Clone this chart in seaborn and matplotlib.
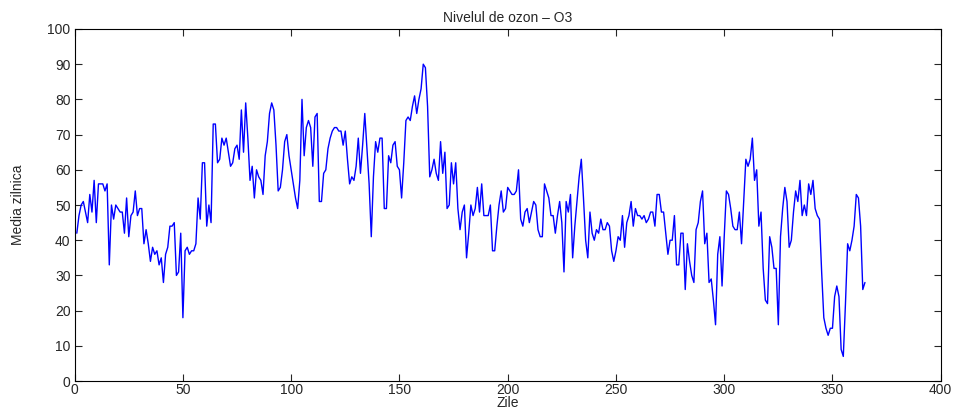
import numpy as np
import pandas as pd
import matplotlib
matplotlib.use("Agg")
import matplotlib.pyplot as plt
import seaborn as sns

# daily ozone means (days 1..365)
ozone = [
    42, 47, 50, 51, 48, 45, 53, 48, 57, 45, 56, 56, 56, 54, 56, 33, 50, 46, 50, 49,
    48, 48, 42, 52, 41, 47, 48, 54, 47, 49, 49, 39, 43, 39, 34, 38, 36, 37, 33, 35,
    28, 36, 38, 44, 44, 45, 30, 31, 42, 18, 37, 38, 36, 37, 37, 39, 52, 46, 62, 62,
    44, 50, 45, 73, 73, 62, 63, 69, 67, 69, 65, 61, 62, 66, 67, 63, 77, 65, 79, 69,
    57, 61, 52, 60, 58, 57, 53, 64, 68, 76, 79, 77, 67, 54, 55, 60, 68, 70, 64, 60,
    56, 52, 49, 57, 80, 64, 72, 74, 72, 61, 75, 76, 51, 51, 59, 60, 66, 69, 71, 72,
    72, 71, 71, 67, 71, 63, 56, 58, 57, 61, 69, 59, 67, 76, 66, 56, 41, 58, 68, 65,
    69, 69, 49, 49, 64, 62, 67, 68, 61, 60, 52, 62, 74, 75, 74, 78, 81, 76, 80, 83,
    90, 89, 78, 58, 60, 63, 59, 57, 68, 59, 65, 49, 50, 62, 56, 62, 49, 43, 48, 50,
    35, 42, 50, 47, 49, 55, 48, 56, 47, 47, 47, 50, 37, 37, 44, 50, 54, 48, 49, 55,
    54, 53, 53, 54, 60, 46, 44, 48, 49, 45, 48, 51, 50, 43, 41, 41, 56, 54, 52, 47,
    47, 42, 47, 51, 45, 31, 51, 48, 53, 35, 44, 51, 58, 63, 52, 40, 35, 48, 42, 40,
    43, 42, 46, 43, 43, 45, 44, 37, 34, 37, 41, 40, 47, 38, 45, 47, 51, 44, 49, 47,
    47, 46, 47, 45, 46, 48, 48, 44, 53, 53, 48, 48, 42, 36, 40, 40, 47, 33, 33, 42,
    42, 26, 39, 34, 30, 28, 43, 45, 51, 54, 39, 42, 28, 29, 23, 16, 36, 41, 27, 41,
    54, 53, 49, 44, 43, 43, 48, 39, 51, 63, 61, 63, 69, 57, 60, 44, 48, 32, 23, 22,
    41, 38, 32, 32, 16, 41, 49, 55, 51, 38, 40, 48, 54, 51, 57, 47, 50, 47, 56, 53,
    57, 49, 47, 46, 31, 18, 15, 13, 15, 15, 24, 27, 24, 9, 7, 22, 39, 37, 40, 44,
    53, 52, 44, 26, 28,
]
days = list(range(1, len(ozone) + 1))

x_ticks = [0, 50, 100, 150, 200, 250, 300, 350, 400]
y_ticks = [0, 10, 20, 30, 40, 50, 60, 70, 80, 90, 100]

df = pd.DataFrame({"zi": days, "ozon": ozone})

sns.set_style("ticks")
plt.rcParams['font.family'] = ['Liberation Sans', 'DejaVu Sans']

fig = plt.figure(figsize=(9.57, 4.08), dpi=100)
ax = fig.add_axes([0.078, 0.066, 0.905, 0.863])

sns.lineplot(data=df, x="zi", y="ozon", color="#0000ff", linewidth=1.0, ax=ax)

ax.set_xlim(0, 400)
ax.set_ylim(0, 100)
ax.set_xticks(x_ticks)
ax.set_yticks(y_ticks)
ax.tick_params(direction="in", top=True, right=True, labelsize=10, length=5,
               width=0.8, pad=3)
ax.tick_params(axis="x", pad=1.5)
for s in ax.spines.values():
    s.set_linewidth(0.8)
    s.set_color("black")

ax.set_title("Nivelul de ozon \u2013 O3", fontsize=10, pad=5)
ax.set_xlabel("Zile", fontsize=10, labelpad=-1)
ax.set_ylabel("Media zilnica", fontsize=10, labelpad=16,
              family=['Liberation Sans Narrow', 'Liberation Sans'])

plt.savefig("out.png", dpi=100)
